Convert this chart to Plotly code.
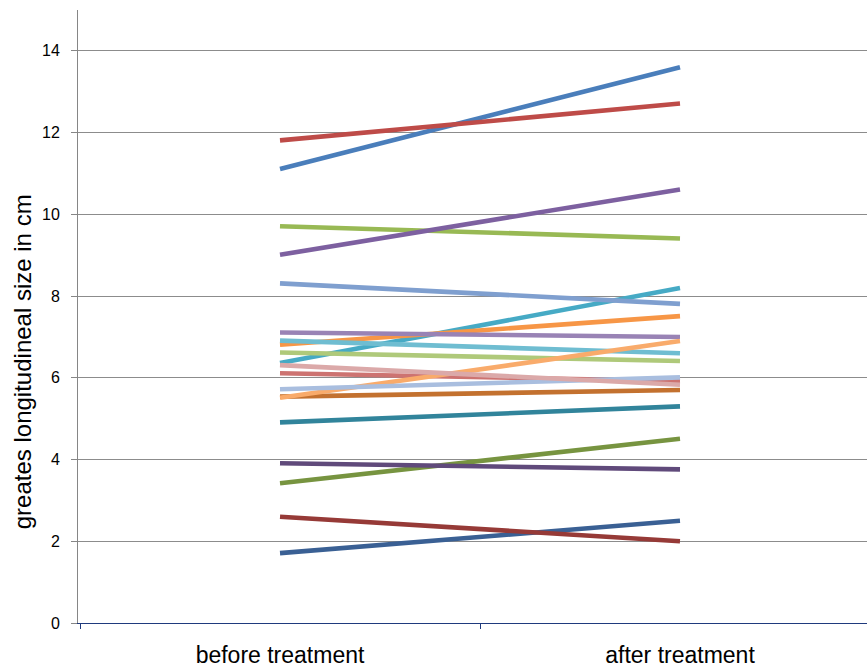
import plotly.graph_objects as go

categories = ["before treatment", "after treatment"]

before = [11.11, 11.81, 9.71, 9.01, 6.36, 6.81,
          1.71, 2.60, 3.42, 3.91, 4.91, 5.54,
          8.31, 6.11, 6.62, 7.11, 6.91, 5.51,
          5.72, 6.31]
after = [13.60, 12.71, 9.41, 10.61, 8.20, 7.51,
         2.50, 2.00, 4.51, 3.76, 5.30, 5.70,
         7.81, 5.92, 6.41, 7.00, 6.60, 6.90,
         6.01, 5.83]

colors = ["#4A7EBB", "#BE4B48", "#98B954", "#7D60A0", "#46AAC5", "#F79646",
          "#3A6094", "#963A37", "#779440", "#604A7B", "#31849B", "#C3712F",
          "#7F9FCF", "#CD7371", "#AFC97A", "#9983B5", "#6FBDD1", "#F9AB6B",
          "#A9BEDF", "#DBA9A9"]

y_title = "greates longitudineal size in cm"

fig = go.Figure()
for b, a, c in zip(before, after, colors):
    fig.add_trace(go.Scatter(
        x=categories, y=[b, a], mode="lines",
        line=dict(color=c, width=4.6),
        showlegend=False, hoverinfo="skip"))

font_family = "Liberation Sans, Arial, sans-serif"

fig.update_layout(
    width=867, height=667,
    margin=dict(l=78, r=0, t=10, b=44),
    paper_bgcolor="white", plot_bgcolor="white",
    font=dict(family=font_family, color="black"),
    xaxis=dict(
        type="category", range=[-0.505, 1.4675],
        tickson="boundaries", ticks="outside", ticklen=5,
        tickcolor="#1F3A7D", tickwidth=1,
        showline=True, linecolor="#1F3A7D", linewidth=1,
        showgrid=False, zeroline=False,
        tickfont=dict(size=23, family=font_family),
        ticklabelstandoff=11, automargin=False,
    ),
    yaxis=dict(
        range=[0, 15], dtick=2, tick0=0,
        ticks="outside", ticklen=6, tickcolor="#868686",
        showline=True, linecolor="#868686", linewidth=1,
        showgrid=True, gridcolor="#8C8C8C", gridwidth=1,
        zeroline=False,
        tickfont=dict(size=16, family=font_family),
        ticklabelstandoff=8, automargin=False,
    ),
    annotations=[dict(
        text=y_title, textangle=-90, showarrow=False,
        xref="paper", yref="paper", x=-0.071, y=0.427,
        xanchor="center", yanchor="middle",
        font=dict(size=24, family=font_family, color="black"),
    )],
)

fig.write_html(
    "out.html",
    config={"displayModeBar": False},
    post_script="document.body.style.margin='0';document.body.style.overflow='hidden';",
)
